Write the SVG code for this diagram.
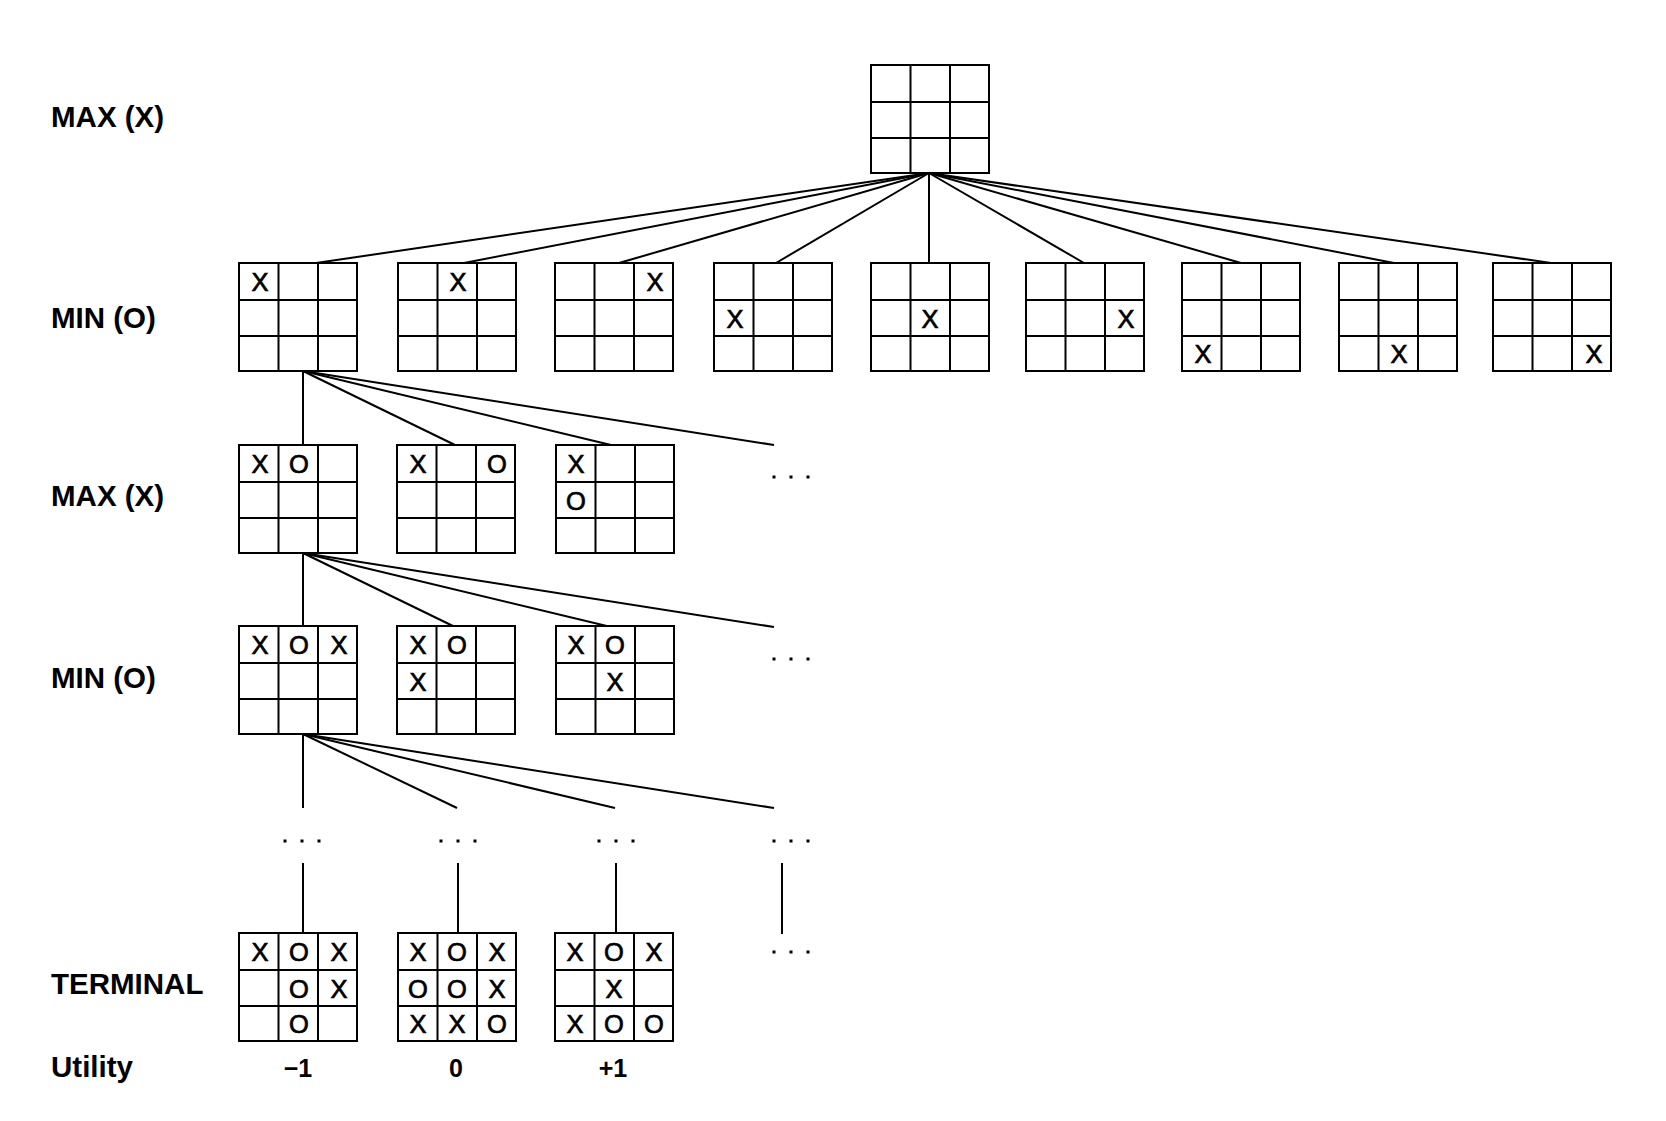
<svg xmlns="http://www.w3.org/2000/svg" xmlns:xlink="http://www.w3.org/1999/xlink" width="1666" height="1121" viewBox="0 0 1666 1121">
<style>
.lbl{font-family:"Liberation Sans",Arial,sans-serif;font-weight:bold;font-size:29.5px;fill:#000}
.m{font-family:"Liberation Sans",Arial,sans-serif;font-size:25.5px;fill:#000;stroke:#000;stroke-width:0.7;text-anchor:middle}
.u{font-family:"Liberation Sans",Arial,sans-serif;font-weight:bold;font-size:25px;fill:#000;text-anchor:middle}
.g{fill:#fff;stroke:#000;stroke-width:2}
.c line{stroke:#000;stroke-width:2}
.d{fill:#000}
</style>
<defs>
<g id="board">
<rect class="g" x="0" y="0" width="118" height="108"/>
<path d="M39.5 0V108M79 0V108M0 37H118M0 73H118" stroke="#000" stroke-width="2" fill="none"/>
</g>
<g id="dots">
<rect class="d" x="-1.5" y="-1.5" width="3" height="3"/>
<rect class="d" x="15.5" y="-1.5" width="3" height="3"/>
<rect class="d" x="32.5" y="-1.5" width="3" height="3"/>
</g>
</defs>
<rect width="1666" height="1121" fill="#fff"/>

<g id="labels">
<text class="lbl" x="51" y="127">MAX (X)</text>
<text class="lbl" x="51" y="328">MIN (O)</text>
<text class="lbl" x="51" y="506">MAX (X)</text>
<text class="lbl" x="51" y="688">MIN (O)</text>
<text class="lbl" x="51" y="994">TERMINAL</text>
<text class="lbl" x="51" y="1077">Utility</text>
</g>

<g id="connectors" class="c">
<line x1="929" y1="173" x2="316" y2="263"/>
<line x1="929" y1="173" x2="464" y2="263"/>
<line x1="929" y1="173" x2="619" y2="263"/>
<line x1="929" y1="173" x2="776" y2="263"/>
<line x1="929" y1="173" x2="929" y2="263"/>
<line x1="929" y1="173" x2="1084" y2="263"/>
<line x1="929" y1="173" x2="1241" y2="263"/>
<line x1="929" y1="173" x2="1394" y2="263"/>
<line x1="929" y1="173" x2="1551" y2="263"/>
<line x1="303" y1="371" x2="303" y2="445"/>
<line x1="303" y1="371" x2="455" y2="445"/>
<line x1="303" y1="371" x2="611" y2="445"/>
<line x1="303" y1="371" x2="774" y2="445"/>
<line x1="303" y1="553" x2="303" y2="627"/>
<line x1="303" y1="553" x2="455" y2="627"/>
<line x1="303" y1="553" x2="611" y2="627"/>
<line x1="303" y1="553" x2="774" y2="627"/>
<line x1="303" y1="734" x2="303" y2="808"/>
<line x1="303" y1="734" x2="457" y2="808"/>
<line x1="303" y1="734" x2="615" y2="808"/>
<line x1="303" y1="734" x2="774" y2="808"/>
<line x1="303" y1="863" x2="303" y2="933"/>
<line x1="458" y1="863" x2="458" y2="933"/>
<line x1="616" y1="863" x2="616" y2="933"/>
<line x1="782" y1="863" x2="782" y2="934"/>
</g>

<g id="ellipses">
<use xlink:href="#dots" x="774" y="477"/>
<use xlink:href="#dots" x="774" y="659"/>
<use xlink:href="#dots" x="285" y="841"/>
<use xlink:href="#dots" x="441" y="841"/>
<use xlink:href="#dots" x="599" y="841"/>
<use xlink:href="#dots" x="774" y="841"/>
<use xlink:href="#dots" x="774" y="952"/>
</g>

<g id="root">
<use xlink:href="#board" x="871" y="65"/>
</g>

<g id="min1">
<use xlink:href="#board" x="239" y="263"/>
<text class="m" x="260" y="291">X</text>
</g>
<g id="min2">
<use xlink:href="#board" x="398" y="263"/>
<text class="m" x="458" y="291">X</text>
</g>
<g id="min3">
<use xlink:href="#board" x="555" y="263"/>
<text class="m" x="655" y="291">X</text>
</g>
<g id="min4">
<use xlink:href="#board" x="714" y="263"/>
<text class="m" x="735" y="327.5">X</text>
</g>
<g id="min5">
<use xlink:href="#board" x="871" y="263"/>
<text class="m" x="930" y="327.5">X</text>
</g>
<g id="min6">
<use xlink:href="#board" x="1026" y="263"/>
<text class="m" x="1126" y="327.5">X</text>
</g>
<g id="min7">
<use xlink:href="#board" x="1182" y="263"/>
<text class="m" x="1203" y="363">X</text>
</g>
<g id="min8">
<use xlink:href="#board" x="1339" y="263"/>
<text class="m" x="1399" y="363">X</text>
</g>
<g id="min9">
<use xlink:href="#board" x="1493" y="263"/>
<text class="m" x="1594" y="363">X</text>
</g>

<g id="max1">
<use xlink:href="#board" x="239" y="445"/>
<text class="m" x="260" y="473">X</text>
<text class="m" x="299" y="473">O</text>
</g>
<g id="max2">
<use xlink:href="#board" x="397" y="445"/>
<text class="m" x="418" y="473">X</text>
<text class="m" x="497" y="473">O</text>
</g>
<g id="max3">
<use xlink:href="#board" x="556" y="445"/>
<text class="m" x="576" y="473">X</text>
<text class="m" x="576" y="509.5">O</text>
</g>

<g id="min2-1">
<use xlink:href="#board" x="239" y="626"/>
<text class="m" x="260" y="654">X</text>
<text class="m" x="299" y="654">O</text>
<text class="m" x="339" y="654">X</text>
</g>
<g id="min2-2">
<use xlink:href="#board" x="397" y="626"/>
<text class="m" x="418" y="654">X</text>
<text class="m" x="457" y="654">O</text>
<text class="m" x="418" y="690.5">X</text>
</g>
<g id="min2-3">
<use xlink:href="#board" x="556" y="626"/>
<text class="m" x="576" y="654">X</text>
<text class="m" x="615" y="654">O</text>
<text class="m" x="615" y="690.5">X</text>
</g>

<g id="term1">
<use xlink:href="#board" x="239" y="933"/>
<text class="m" x="260" y="961">X</text>
<text class="m" x="299" y="961">O</text>
<text class="m" x="339" y="961">X</text>
<text class="m" x="299" y="997.5">O</text>
<text class="m" x="339" y="997.5">X</text>
<text class="m" x="299" y="1033">O</text>
</g>
<g id="term2">
<use xlink:href="#board" x="398" y="933"/>
<text class="m" x="418" y="961">X</text>
<text class="m" x="457" y="961">O</text>
<text class="m" x="497" y="961">X</text>
<text class="m" x="418" y="997.5">O</text>
<text class="m" x="457" y="997.5">O</text>
<text class="m" x="497" y="997.5">X</text>
<text class="m" x="418" y="1033">X</text>
<text class="m" x="457" y="1033">X</text>
<text class="m" x="497" y="1033">O</text>
</g>
<g id="term3">
<use xlink:href="#board" x="555" y="933"/>
<text class="m" x="575" y="961">X</text>
<text class="m" x="614" y="961">O</text>
<text class="m" x="654" y="961">X</text>
<text class="m" x="614" y="997.5">X</text>
<text class="m" x="575" y="1033">X</text>
<text class="m" x="614" y="1033">O</text>
<text class="m" x="654" y="1033">O</text>
</g>

<g id="utility">
<text class="u" x="298" y="1077">−1</text>
<text class="u" x="456" y="1077">0</text>
<text class="u" x="613" y="1077">+1</text>
</g>
</svg>
